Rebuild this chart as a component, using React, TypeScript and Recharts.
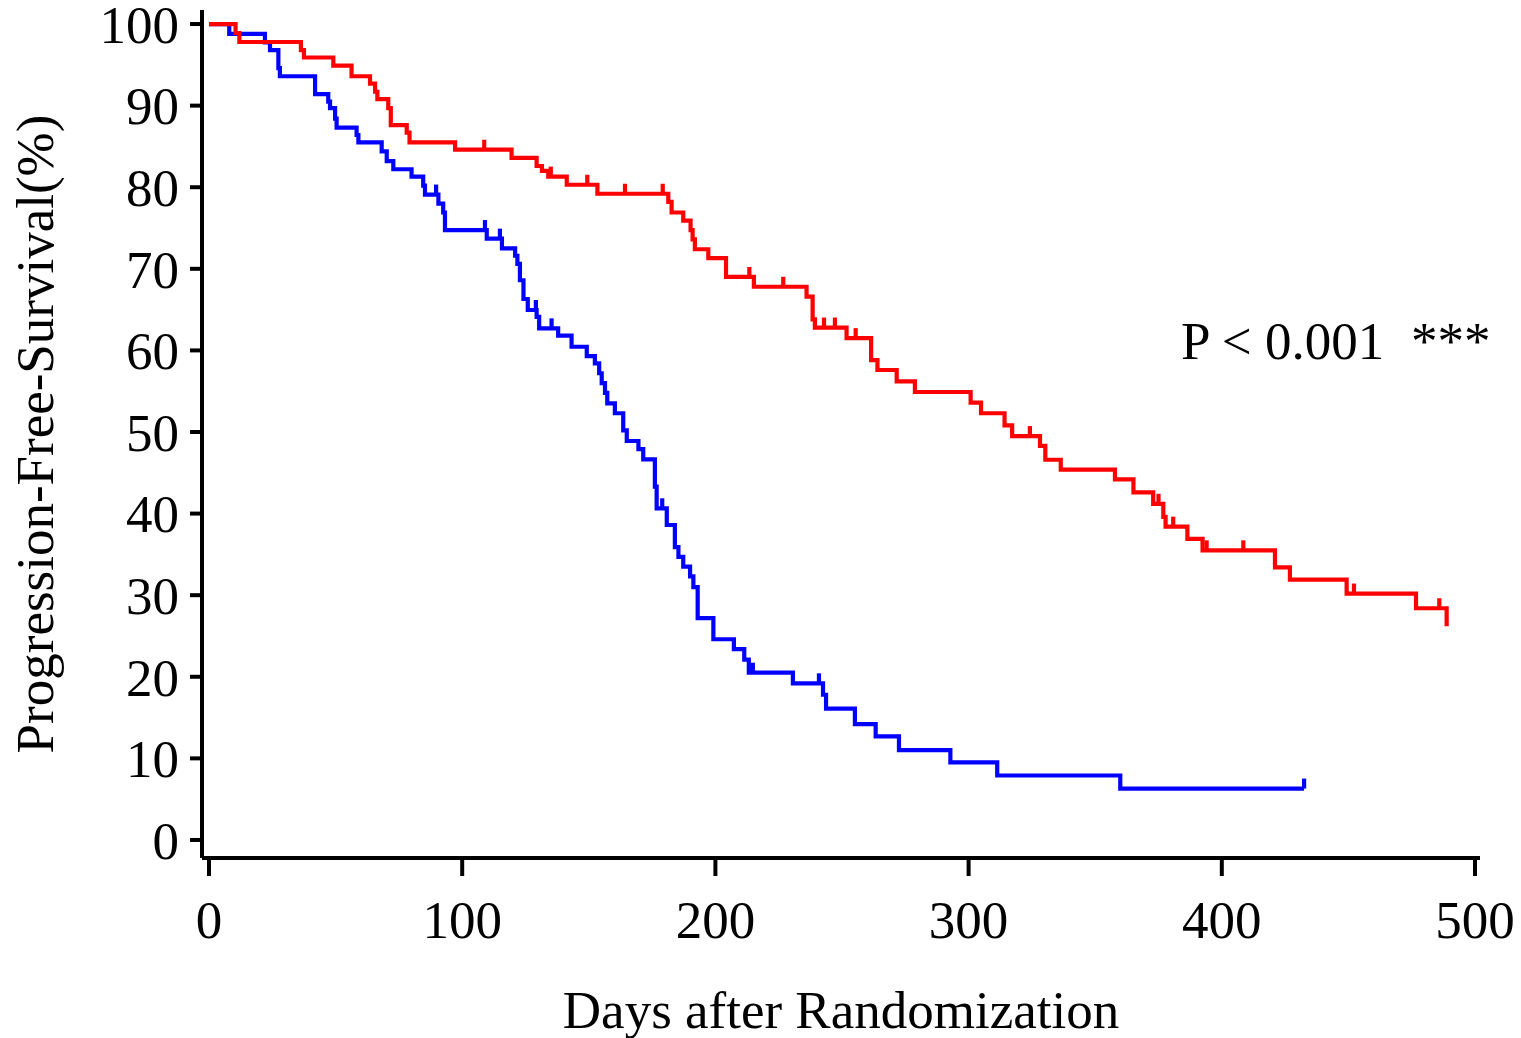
import React from 'react';
import { LineChart, Line, XAxis, YAxis } from 'recharts';

const FONT = "'Liberation Serif', 'Times New Roman', serif";

const xTicks = [0, 100, 200, 300, 400, 500];
const yTicks = [0, 10, 20, 30, 40, 50, 60, 70, 80, 90, 100];

// red arm: day of each progression event and the survival (%) after it
const redEventDays = [
  0, 10.5, 12, 36.3, 37.5, 49.1, 56.3, 63.6, 65.6, 66.5, 70.8, 71.8, 78.1, 79.2, 97.2,
  119.5, 129.4, 131.5, 134, 141.3, 153.4, 181.4, 182.7, 187.3, 190.2, 191, 191.9, 197.2,
  204.2, 215.2, 236, 238.4, 239.3, 251.8, 261.5, 264, 271.6, 278.8, 300.8, 304.9, 314.2,
  317.2, 328.2, 330.3, 336.4, 357.8, 365.1, 372.9, 376.9, 377.8, 386.4, 392.4, 421,
  426.9, 449.3, 476.7, 488.8,
];
const redEventPfs = [
  100, 98.9, 97.8, 96.8, 95.9, 94.9, 93.6, 92.7, 91.7, 90.8, 89.7, 87.6, 86.7, 85.5, 84.6,
  83.6, 82.6, 82.0, 81.3, 80.3, 79.2, 78.2, 76.9, 75.9, 74.75, 73.6, 72.4, 71.3,
  69.0, 67.8, 66.6, 63.8, 62.8, 61.5, 58.8, 57.6, 56.2, 54.9, 53.6, 52.3, 50.8,
  49.5, 48.3, 46.6, 45.4, 44.2, 42.6, 41.2, 39.6, 38.4, 36.9, 35.5, 33.4,
  31.9, 30.2, 28.4, 26.2,
];
const redCensorDays = [
  108.7, 135, 149.4, 164.3, 179.2, 213.4, 226.8, 242.9, 247.2, 255.4, 324.2, 375, 380.8,
  394, 408.5, 452.2, 485.9,
];

// blue arm
const blueEventDays = [
  0, 8, 22.1, 24.1, 27.4, 28, 41.9, 47.1, 47.8, 49.8, 50.4, 58.3, 59, 68.2, 70.2, 72.8,
  80, 84.6, 85.3, 90.6, 92.5, 93.2, 109.7, 115.7, 120.9, 121.8, 122.8, 124.2, 125.9,
  129.4, 130.4, 137.9, 143.2, 149.2, 152.4, 154.1, 155.1, 156.4, 157.3, 160.3, 163.6,
  165, 169.6, 171.5, 176.1, 176.8, 180.8, 184, 185.4, 187.3, 190, 191.3, 193, 199.2,
  207.3, 211.4, 213.2, 230.6, 242.5, 243.7, 255.1, 263.3, 272.5, 292.8, 311.3, 359.9,
];
const blueEventPfs = [
  100, 98.8, 97.75, 96.8, 94.6, 93.6, 91.4, 90.5, 89.7, 88.4, 87.3, 86.4, 85.5, 84.4, 83.2, 82.2,
  81.3, 80.2, 79.1, 78.0, 76.9, 74.75, 73.7, 72.5, 71.6, 70.6, 68.6, 66.3, 64.95,
  64.1, 62.7, 61.8, 60.45, 59.3, 58.4, 57.2, 56.0, 54.8, 53.5, 52.3, 50.2,
  48.9, 47.9, 46.65, 43.3, 40.65, 38.6, 35.9, 34.7, 33.5, 32.3, 31.0, 27.2, 24.6,
  23.4, 22.1, 20.5, 19.2, 17.8, 16.1, 14.2, 12.7, 11.0, 9.5, 7.9, 6.3,
];
const blueCensorDays = [89.7, 109, 114.9, 129.1, 135.3, 179, 214.8, 240.9, 432.5];

type Pt = { day: number; pfs: number; censored: boolean };

// merge events and censor marks into one step curve
const buildCurve = (days: number[], pfs: number[], censor: number[]): Pt[] => {
  const pts: Pt[] = days.map((d, i) => ({ day: d, pfs: pfs[i], censored: false }));
  censor.forEach((c) => {
    let level = pfs[0];
    days.forEach((d, i) => {
      if (d <= c) level = pfs[i];
    });
    pts.push({ day: c, pfs: level, censored: true });
  });
  return pts.sort((a, b) => a.day - b.day);
};

const redData = buildCurve(redEventDays, redEventPfs, redCensorDays);
const blueData = buildCurve(blueEventDays, blueEventPfs, blueCensorDays);

const LINE_W = 4.2;

const censorMark = (color: string) => (props: any) => {
  const { cx, cy, payload, index } = props;
  if (!payload || !payload.censored || cx == null) return <g key={`n${index}`} />;
  return (
    <line key={`c${index}`} x1={cx} x2={cx} y1={cy} y2={cy - 10} stroke={color} strokeWidth={LINE_W} />
  );
};

const axisStroke = { stroke: '#000', strokeWidth: 4 };
const tickText = { fill: '#000', fontSize: 53, fontFamily: FONT };

const App: React.FC = () => {
  return (
    <div style={{ position: 'absolute', left: 0, top: 0, width: 1521, height: 1038, background: '#fff' }}>
      <LineChart width={1521} height={1038} margin={{ top: 10, right: 41, bottom: 0, left: 0 }}>
        <XAxis
          type="number"
          dataKey="day"
          domain={[-2.76, 501.97]}
          allowDataOverflow
          ticks={xTicks}
          interval={0}
          height={180}
          tickSize={18}
          tickMargin={24}
          axisLine={axisStroke}
          tickLine={axisStroke}
          tick={tickText}
          label={{ value: 'Days after Randomization', position: 'center', dy: 61, ...tickText }}
        />
        <YAxis
          type="number"
          domain={[-2.21, 101.72]}
          allowDataOverflow
          ticks={yTicks}
          interval={0}
          width={202}
          tickSize={12}
          tickMargin={11}
          axisLine={axisStroke}
          tickLine={axisStroke}
          tick={tickText}
          label={{ value: 'Progression-Free-Survival(%)', angle: -90, position: 'center', dx: -67, ...tickText }}
        />
        <Line
          data={blueData}
          dataKey="pfs"
          type="stepAfter"
          stroke="#0000FF"
          strokeWidth={LINE_W}
          dot={censorMark('#0000FF')}
          activeDot={false}
          isAnimationActive={false}
        />
        <Line
          data={redData}
          dataKey="pfs"
          type="stepAfter"
          stroke="#FF0000"
          strokeWidth={LINE_W}
          dot={censorMark('#FF0000')}
          activeDot={false}
          isAnimationActive={false}
        />
      </LineChart>
      <svg width={1521} height={1038} style={{ position: 'absolute', left: 0, top: 0, pointerEvents: 'none' }}>
        <text y={359} fontSize={53} fontFamily={FONT} fill="#000">
          <tspan x={1181}>P &lt; 0.001</tspan>
          <tspan x={1411}>***</tspan>
        </text>
      </svg>
    </div>
  );
};

export default App;
